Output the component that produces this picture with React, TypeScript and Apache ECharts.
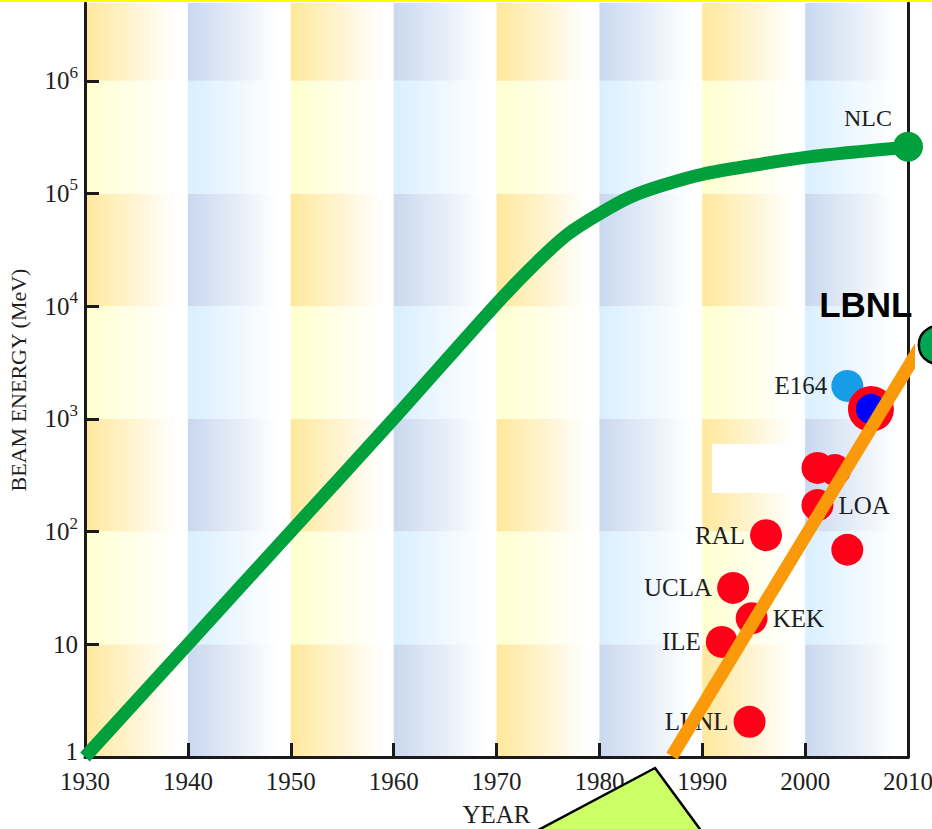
import React, { useEffect, useRef } from "react";
import * as echarts from "echarts";

// ---------- data ----------
const xMin = 1930;
const xMax = 2010;
const yMin = 1;
const yMax = Math.pow(10, 6.69);
const yTickValues = [1, 10, 100, 1000, 10000, 100000, 1000000];

// conventional accelerator energy frontier (green curve)
const greenYears = [1930, 1940, 1950, 1960, 1970, 1974, 1977, 1980, 1983, 1986, 1990, 1995, 2000, 2005, 2010];
const greenEnergy = [1, 10, 100, 1000, 10500, 25000, 44000, 66000, 93000, 117000, 148000, 178000, 209000, 234000, 257000];

// laser-plasma experiments (red dots)
const labNames = ["LLNL", "ILE", "KEK", "UCLA", "RAL", "LOA", "", "", ""];
const labYears = [1994.6, 1991.9, 1994.8, 1993.0, 1996.2, 2001.2, 2001.2, 2002.9, 2004.1];
const labEnergy = [2.05, 10.5, 17, 31.6, 93, 172, 367, 352, 69];
const labLabelSide = ["left", "left", "right", "left", "left", "right", "left", "left", "left"];

// other points
const e164 = { name: "E164", year: 2004.1, energy: 1960 };
const ringPoint = { year: 2006.4, energy: 1225 };
const nlc = { name: "NLC", year: 2010, energy: 260000 };
const lbnl = { name: "LBNL", year: 2012.9, energy: 4530 };

// orange trend line
const orangeYears = [1987.05, 2011.2];
const orangeEnergy = [1.02, 4350];

// background bands
const bandStartYears = [1930, 1940, 1950, 1960, 1970, 1980, 1990, 2000];
const bandExponents = [0, 1, 2, 3, 4, 5, 6];

const SERIF = "'Liberation Serif', 'Times New Roman', serif";
const TEXT = "#1e1e1e";

function grad(c: string) {
  return {
    type: "linear",
    x: 0,
    y: 0,
    x2: 1,
    y2: 0,
    colorStops: [
      { offset: 0, color: c },
      { offset: 0.88, color: "#ffffff" },
      { offset: 1, color: "#ffffff" },
    ],
  };
}

export default function App() {
  const ref = useRef<HTMLDivElement>(null);

  useEffect(() => {
    if (!ref.current) return;
    const chart = echarts.init(ref.current, null, { renderer: "svg" });

    const bands: any[] = [];
    bandStartYears.forEach((y0, i) => {
      const blue = i % 2 === 1;
      bandExponents.forEach((e) => {
        const dark = e % 2 === 0;
        const c = blue ? (dark ? "#c9d8ef" : "#d9efff") : dark ? "#ffe89c" : "#ffffcf";
        const lo = Math.pow(10, e);
        const hi = e === 6 ? yMax : Math.pow(10, e + 1);
        bands.push([
          { xAxis: y0, yAxis: lo, itemStyle: { color: grad(c) } },
          { xAxis: y0 + 10, yAxis: hi },
        ]);
      });
    });

    const labelBase = { fontFamily: SERIF, fontSize: 25, color: TEXT };

    const option: any = {
      animation: false,
      backgroundColor: "#ffffff",
      grid: { left: 85, right: 24, top: 3, bottom: 72, outerBoundsMode: "none" },
      xAxis: {
        type: "value",
        min: xMin,
        max: xMax,
        interval: 10,
        z: 2,
        name: "YEAR",
        nameLocation: "middle",
        nameGap: 45,
        nameTextStyle: { fontFamily: SERIF, fontSize: 25, color: TEXT },
        axisLine: { show: true, lineStyle: { color: "#1a1a1a", width: 3 } },
        axisTick: { show: true, inside: true, length: 14, lineStyle: { color: "#1a1a1a", width: 3 } },
        axisLabel: {
          fontFamily: SERIF,
          fontSize: 25,
          lineHeight: 20,
          color: TEXT,
          margin: 14,
          formatter: (v: number) => String(v),
        },
        splitLine: { show: false },
      },
      yAxis: [
        {
          type: "log",
          min: yMin,
          max: yMax,
          logBase: 10,
          z: 2,
          name: "BEAM ENERGY (MeV)",
          nameLocation: "middle",
          nameGap: 56,
          nameRotate: 90,
          nameTextStyle: { fontFamily: SERIF, fontSize: 22, color: TEXT },
          axisLine: { show: true, lineStyle: { color: "#1a1a1a", width: 3 } },
          axisTick: {
            show: true,
            inside: true,
            length: 14,
            customValues: yTickValues,
            lineStyle: { color: "#1a1a1a", width: 3 },
          },
          axisLabel: {
            margin: 7,
            customValues: yTickValues,
            fontFamily: SERIF,
            fontSize: 25,
            color: TEXT,
            formatter: (v: number) => {
              const e = Math.round(Math.log10(v));
              if (e === 0) return "{o|1}";
              if (e === 1) return "{b|10}";
              return "{b|10}{s|" + e + "}";
            },
            rich: {
              o: { fontFamily: SERIF, fontSize: 25, lineHeight: 14, padding: [0, 0, 12, 0], color: TEXT },
              b: { fontFamily: SERIF, fontSize: 25, lineHeight: 34, color: TEXT },
              s: { fontFamily: SERIF, fontSize: 17, lineHeight: 17, color: TEXT, verticalAlign: "top" },
            },
          },
          splitLine: { show: false },
        },
        {
          type: "log",
          min: yMin,
          max: yMax,
          logBase: 10,
          position: "right",
          z: 2,
          axisLine: { show: true, lineStyle: { color: "#1a1a1a", width: 3 } },
          axisTick: { show: false },
          axisLabel: { show: false },
          splitLine: { show: false },
        },
      ],
      series: [
        {
          type: "line",
          name: "bands",
          data: [],
          z: 1,
          silent: true,
          markArea: { silent: true, label: { show: false }, data: bands },
        },
        {
          type: "line",
          name: "frontier",
          z: 3,
          data: greenYears.map((y, i) => [y, greenEnergy[i]]),
          showSymbol: false,
          symbol: "none",
          smooth: 0.3,
          lineStyle: { color: "#00a03c", width: 13 },
        },
        {
          type: "scatter",
          name: "nlc",
          z: 3,
          clip: false,
          data: [[nlc.year, nlc.energy]],
          symbolSize: 30,
          itemStyle: { color: "#00a03c", opacity: 1 },
          label: { show: true, formatter: nlc.name, position: "top", distance: 2, offset: [-40, 0], ...labelBase, fontSize: 24 },
        },
        {
          type: "scatter",
          name: "e164",
          z: 4,
          data: [[e164.year, e164.energy]],
          symbolSize: 32,
          itemStyle: { color: "#169de8", opacity: 1 },
          label: { show: true, formatter: e164.name, position: "left", distance: 4, ...labelBase },
        },
        {
          type: "scatter",
          name: "labs",
          z: 4,
          data: labYears.map((y, i) => ({
            value: [y, labEnergy[i]],
            label: { show: labNames[i] !== "", formatter: labNames[i], position: labLabelSide[i] },
          })),
          symbolSize: 32,
          itemStyle: { color: "#ff0019", opacity: 1 },
          label: { show: true, distance: 5, ...labelBase },
        },
        {
          type: "scatter",
          name: "ring",
          z: 4,
          data: [[ringPoint.year, ringPoint.energy]],
          symbolSize: 38,
          itemStyle: { color: "#0000ff", borderColor: "#ff0019", borderWidth: 8, opacity: 1 },
        },
        {
          type: "line",
          name: "trend",
          z: 5,
          clip: false,
          data: orangeYears.map((y, i) => [y, orangeEnergy[i]]),
          symbol: "none",
          lineStyle: { color: "#fa9a0a", width: 13, cap: "butt" },
        },
        {
          type: "scatter",
          name: "lbnl",
          z: 6,
          clip: false,
          data: [[lbnl.year, lbnl.energy]],
          symbolSize: 38,
          itemStyle: { color: "#00a651", borderColor: "#000000", borderWidth: 2.5, opacity: 1 },
          label: {
            show: true,
            formatter: lbnl.name,
            position: "top",
            distance: 0,
            offset: [-72, -3],
            fontFamily: "'Liberation Sans', Arial, sans-serif",
            fontWeight: "bold",
            fontSize: 35,
            color: "#000000",
          },
        },
      ],
      graphic: [
        { type: "rect", z: 20, shape: { x: 0, y: 0, width: 932, height: 2 }, style: { fill: "#ffff00" } },
        { type: "rect", z: 3, shape: { x: 712, y: 444, width: 86, height: 49 }, style: { fill: "#ffffff" } },
        {
          type: "polygon",
          z: 20,
          shape: { points: [[655, 768], [705, 836], [527, 836]] },
          style: { fill: "#ccff66", stroke: "#000000", lineWidth: 2.5 },
        },
      ],
    };

    chart.setOption(option);
    return () => chart.dispose();
  }, []);

  return (
    <div
      ref={ref}
      style={{ position: "fixed", left: 0, top: 0, width: 932, height: 829, background: "#fff" }}
    />
  );
}
